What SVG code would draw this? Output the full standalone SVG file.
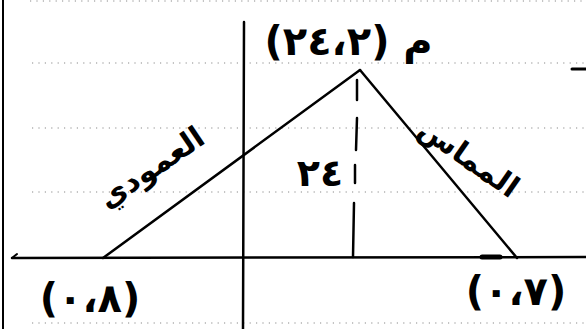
<svg xmlns="http://www.w3.org/2000/svg" width="586" height="329" viewBox="0 0 586 329">
<style>
.dots{stroke:#8a8a8a;stroke-width:1.2;stroke-dasharray:1.2 5.2;fill:none}
.ink{stroke:#000;fill:none;stroke-linecap:round;stroke-linejoin:round}
.lbl{font-family:"DejaVu Sans","Noto Sans",sans-serif;font-weight:bold;fill:#000}
.num{direction:ltr;unicode-bidi:bidi-override}
</style>
<rect width="586" height="329" fill="#fff"/>
<g id="ruling">
<line class="dots" x1="30" y1="1" x2="586" y2="1"/>
<line class="dots" x1="32" y1="63" x2="586" y2="63"/>
<line class="dots" x1="32" y1="128" x2="586" y2="128"/>
<line class="dots" x1="32" y1="192" x2="586" y2="192"/>
<line class="dots" x1="32" y1="323" x2="586" y2="323"/>
<line class="ink" x1="3" y1="0" x2="3" y2="329" stroke-width="2"/>
<line class="ink" x1="572" y1="69" x2="586" y2="69" stroke-width="3"/>
</g>
<g id="axes">
<line class="ink" x1="244" y1="22" x2="243" y2="329" stroke-width="2.5"/>
<line class="ink" x1="12" y1="258" x2="586" y2="257" stroke-width="2.5"/>
<path class="ink" d="M12 258 L17 254" stroke-width="2"/>
<line class="ink" x1="482" y1="257" x2="500" y2="257" stroke-width="5"/>
</g>
<g id="connectors">
<line class="ink" x1="103" y1="258" x2="360" y2="70" stroke-width="2.5"/>
<line class="ink" x1="360" y1="70" x2="517" y2="258" stroke-width="2.5"/>
<path class="ink" d="M357 80 L357 100 M357 118 L356 150 M355 165 L355 183 M354 203 L353 257" stroke-width="2.5"/>
</g>
<g id="apex">
<text class="lbl num" x="327" y="55" font-size="40" letter-spacing="3" text-anchor="middle">(٢٤،٢)</text>
<text class="lbl" x="418" y="54" font-size="40" text-anchor="middle">م</text>
</g>
<g id="height">
<text class="lbl num" x="320" y="186" font-size="38" text-anchor="middle">٢٤</text>
</g>
<g id="normal">
<text class="lbl" x="0" y="0" font-size="30" text-anchor="middle" transform="translate(157,176) rotate(-34)">العمودي</text>
</g>
<g id="tangent">
<text class="lbl" x="0" y="0" font-size="30" text-anchor="middle" transform="translate(463,166) rotate(35)">المماس</text>
</g>
<g id="pointLeft">
<text class="lbl num" x="90" y="312" font-size="40" letter-spacing="4" text-anchor="middle">(٠،٨)</text>
</g>
<g id="pointRight">
<text class="lbl num" x="516" y="305" font-size="40" letter-spacing="4" text-anchor="middle">(٠،٧)</text>
</g>
</svg>
